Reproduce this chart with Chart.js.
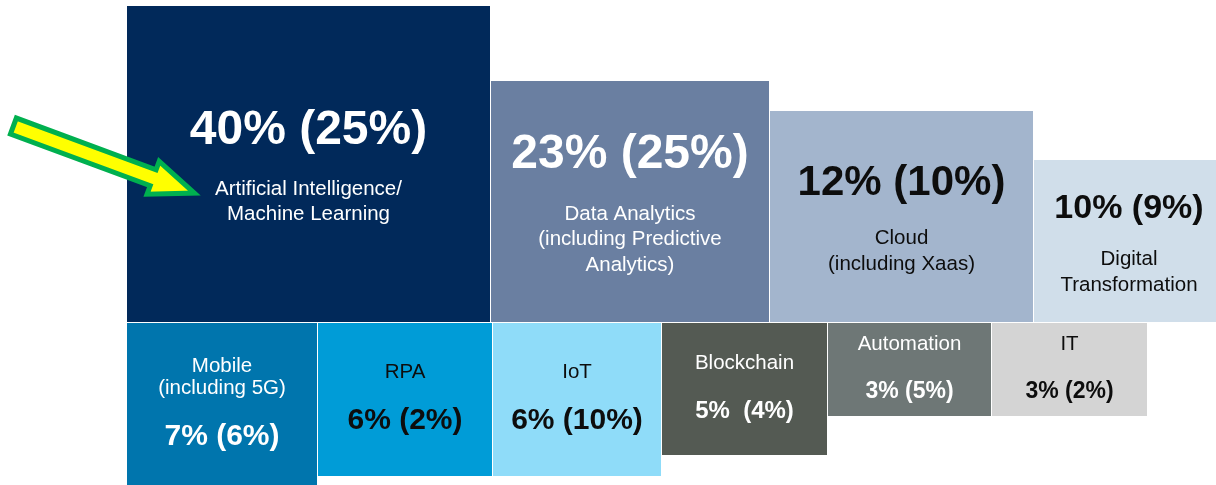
<!DOCTYPE html>
<html>
<head>
<meta charset="utf-8">
<script src="https://cdn.jsdelivr.net/npm/chart.js@4.4.1/dist/chart.umd.min.js"></script>
<style>
  html, body { margin: 0; padding: 0; background: #ffffff; overflow: hidden; }
  #wrap { width: 1216px; height: 485px; }
</style>
</head>
<body>
<div id="wrap"><canvas id="tiles" width="1216" height="485"></canvas></div>
<script>
// Technology focus areas: current share, prior-period share in brackets.
const upperCategories = [
  ['Artificial Intelligence/', 'Machine Learning'],
  ['Data Analytics', '(including Predictive', 'Analytics)'],
  ['Cloud', '(including Xaas)'],
  ['Digital', 'Transformation']
];
const upperShares = [40, 23, 12, 10];
const upperPriorShares = [25, 25, 10, 9];

const lowerCategories = [
  ['Mobile', '(including 5G)'],
  ['RPA'],
  ['IoT'],
  ['Blockchain'],
  ['Automation'],
  ['IT']
];
const lowerShares = [7, 6, 6, 5, 3, 3];
const lowerPriorShares = [6, 2, 10, 4, 5, 2];

// Tile layout (axis units; the upper row rises from 0, the lower row hangs below it).
const ROW_START = 127;
const TILE_GAP = 1;
const upperWidths = [363, 278, 263, 190];
const upperHeights = [316, 241, 211, 162];
const lowerWidths = [190, 174, 168, 165, 163, 155];
const lowerDepths = [163, 154, 154, 133, 94, 94];

// Tile styling.
const upperFill = ['#01295a', '#6a7fa1', '#a3b5cd', '#d0deea'];
const upperInk = ['#ffffff', '#ffffff', '#0d0d0d', '#0d0d0d'];
const upperValueSize = [48, 48, 42, 34];
const lowerFill = ['#0075ad', '#009cd7', '#8fdcf9', '#545a53', '#6e7776', '#d4d4d4'];
const lowerInk = ['#ffffff', '#0d0d0d', '#0d0d0d', '#ffffff', '#ffffff', '#0d0d0d'];
const lowerValueSize = [30, 30, 30, 24, 23, 23];
const lowerValueSpacer = [' ', ' ', ' ', '  ', ' ', ' '];

const FONT = '"Liberation Sans", Arial, Helvetica, sans-serif';
const LABEL_SIZE = 20.5;

function spans(widths) {
  let x = ROW_START;
  return widths.map(w => {
    const s = [x, x + w];
    x += w + TILE_GAP;
    return s;
  });
}
const upperSpans = spans(upperWidths);
const lowerSpans = spans(lowerWidths);

const datasets = [];
upperSpans.forEach((s, i) => {
  datasets.push({
    label: upperCategories[i].join(' '),
    data: [{ x: s[0], y: upperHeights[i] }, { x: s[1], y: upperHeights[i] }],
    backgroundColor: upperFill[i],
    borderColor: 'transparent',
    borderWidth: 0,
    fill: { value: 0 },
    tile: { row: 'upper', index: i }
  });
});
lowerSpans.forEach((s, i) => {
  datasets.push({
    label: lowerCategories[i].join(' '),
    data: [{ x: s[0], y: -lowerDepths[i] }, { x: s[1], y: -lowerDepths[i] }],
    backgroundColor: lowerFill[i],
    borderColor: 'transparent',
    borderWidth: 0,
    fill: { value: -1 },
    tile: { row: 'lower', index: i }
  });
});

function drawLines(ctx, cx, lines) {
  lines.forEach(l => {
    ctx.font = l.font;
    ctx.fillStyle = l.color;
    ctx.fillText(l.text, cx, l.y);
  });
}

function drawArrow(ctx, tipX, tipY) {
  const angle = Math.atan2(70, 189);
  ctx.save();
  ctx.translate(tipX, tipY);
  ctx.rotate(angle);
  ctx.beginPath();
  ctx.moveTo(-6, 0);
  ctx.lineTo(-50, -17.5);
  ctx.lineTo(-50, -8.5);
  ctx.lineTo(-199, -8.5);
  ctx.lineTo(-199, 8.5);
  ctx.lineTo(-50, 8.5);
  ctx.lineTo(-50, 17.5);
  ctx.closePath();
  ctx.fillStyle = '#ffff00';
  ctx.fill();
  ctx.lineWidth = 5;
  ctx.lineJoin = 'miter';
  ctx.strokeStyle = '#00b04f';
  ctx.stroke();
  ctx.restore();
}

const tileText = {
  id: 'tileText',
  afterDatasetsDraw(chart) {
    const ctx = chart.ctx;
    const xs = chart.scales.x;
    const ys = chart.scales.y;
    ctx.save();
    ctx.textAlign = 'center';
    ctx.textBaseline = 'middle';
    let arrowTip = null;

    // Upper row: value first, category below.
    upperSpans.forEach((s, i) => {
      const left = xs.getPixelForValue(s[0]);
      const right = xs.getPixelForValue(s[1]);
      const top = ys.getPixelForValue(upperHeights[i]);
      const bottom = ys.getPixelForValue(0);
      const cx = (left + right) / 2;
      const vs = upperValueSize[i];
      const gap = 0.6 * vs + 30;
      const step = 25.5;
      const labels = upperCategories[i];
      const blockTop = -0.36 * vs;
      const blockBottom = gap + (labels.length - 1) * step + 0.5 * LABEL_SIZE;
      const v = (top + bottom) / 2 + 5 - (blockTop + blockBottom) / 2;
      const lines = [{
        text: upperShares[i] + '% (' + upperPriorShares[i] + '%)',
        font: 'bold ' + vs + 'px ' + FONT, color: upperInk[i], y: v
      }];
      labels.forEach((t, k) => lines.push({
        text: t, font: LABEL_SIZE + 'px ' + FONT, color: upperInk[i], y: v + gap + k * step
      }));
      drawLines(ctx, cx, lines);
      if (i === 0) arrowTip = { x: left + 73, y: v + gap + 6 };
    });

    // Lower row: category first, value below.
    lowerSpans.forEach((s, i) => {
      const left = xs.getPixelForValue(s[0]);
      const right = xs.getPixelForValue(s[1]);
      const top = ys.getPixelForValue(-1);
      const bottom = ys.getPixelForValue(-lowerDepths[i]);
      const cx = (left + right) / 2;
      const vs = lowerValueSize[i];
      const step = 22;
      const gap = 48;
      const labels = lowerCategories[i];
      const last = (labels.length - 1) * step;
      const blockTop = -0.36 * LABEL_SIZE;
      const blockBottom = last + gap + 0.36 * vs;
      const y0 = (top + bottom) / 2 - 1 - (blockTop + blockBottom) / 2;
      const lines = labels.map((t, k) => ({
        text: t, font: LABEL_SIZE + 'px ' + FONT, color: lowerInk[i], y: y0 + k * step
      }));
      lines.push({
        text: lowerShares[i] + '%' + lowerValueSpacer[i] + '(' + lowerPriorShares[i] + '%)',
        font: 'bold ' + vs + 'px ' + FONT, color: lowerInk[i], y: y0 + last + gap
      });
      drawLines(ctx, cx, lines);
    });

    if (arrowTip) drawArrow(ctx, arrowTip.x, arrowTip.y);
    ctx.restore();
  }
};

new Chart(document.getElementById('tiles'), {
  type: 'line',
  data: { datasets },
  options: {
    responsive: false,
    maintainAspectRatio: false,
    animation: false,
    events: [],
    layout: { padding: 0 },
    elements: { point: { radius: 0 }, line: { tension: 0 } },
    plugins: { legend: { display: false }, tooltip: { enabled: false } },
    scales: {
      x: { type: 'linear', min: 0, max: 1216, display: false },
      y: { type: 'linear', min: -163, max: 322, display: false }
    }
  },
  plugins: [tileText]
});
</script>
</body>
</html>
